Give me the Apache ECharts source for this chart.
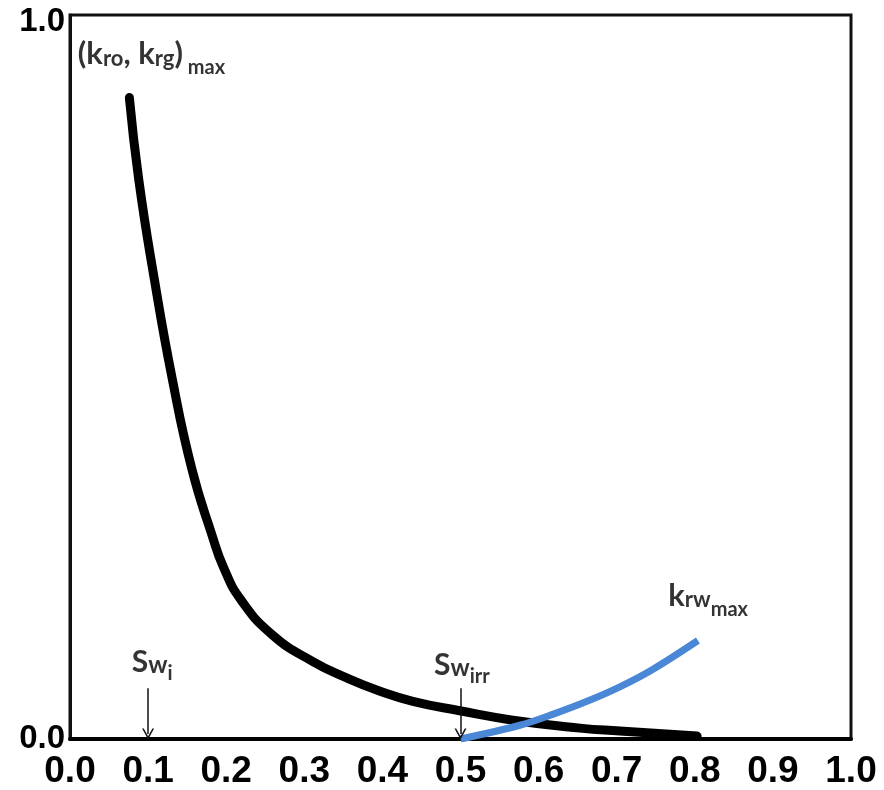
<!DOCTYPE html>
<html>
<head>
<meta charset="utf-8">
<script src="https://cdn.jsdelivr.net/npm/echarts@6/dist/echarts.min.js"></script>
<style>
  html, body { margin: 0; padding: 0; background: #ffffff; }
  #chart { width: 884px; height: 790px; }
</style>
</head>
<body>
<div id="chart"></div>
<script>
// Water saturation ticks along the bottom, relative permeability on the left
const xTickValues = [0, 0.1, 0.2, 0.3, 0.4, 0.5, 0.6, 0.7, 0.8, 0.9, 1.0];
const yTickValues = [0, 1.0];

// Oil / gas relative permeability curve (Sw, kr)
const oilGasSw = [0.076, 0.088, 0.108, 0.131, 0.156, 0.182, 0.197, 0.219, 0.260, 0.311, 0.355, 0.397, 0.439, 0.499, 0.567, 0.653, 0.704, 0.803];
const oilGasKr = [0.886, 0.773, 0.635, 0.497, 0.373, 0.281, 0.236, 0.192, 0.143, 0.107, 0.084, 0.066, 0.052, 0.039, 0.026, 0.015, 0.011, 0.004];

// Water relative permeability curve (Sw, kr)
const waterSw = [0.500, 0.576, 0.618, 0.662, 0.704, 0.746, 0.804];
const waterKr = [0.000, 0.019, 0.034, 0.052, 0.072, 0.096, 0.136];

// Saturation markers
const swInitial = 0.1;
const swIrreducible = 0.5;

// Annotation anchors (left edge, vertical centre) and their rich-text strings
const annotationPos = [[0.010, 0.934], [0.079, 0.097], [0.466, 0.093], [0.766, 0.186]];
const annotationText = [
  '{K|(k}{r|ro}{K|, k}{r|rg}{K|)}{m| max}',
  '{S|S}{w|w}{i|i}',
  '{S|S}{w|w}{i|irr}',
  '{K|k}{r|rw}{m|max}'
];

const zip = (a, b) => a.map((v, i) => [v, b[i]]);

const chevron = 'path://M0,10 L5,0 L10,10 L8.6,10 L5,2.8 L1.4,10 Z';
const arrowLine = (x) => [
  { coord: [x, 0.070], symbol: 'none' },
  { coord: [x, 0.007], symbol: chevron, symbolSize: [12, 11] }
];

const textColor = '#000000';
const richStyles = {
  K: { fontFamily: 'Lato', fontWeight: 'bold', fontSize: 31, lineHeight: 30, color: textColor, verticalAlign: 'bottom', padding: [0, 0, 8, 0] },
  r: { fontFamily: 'Lato', fontWeight: 'bold', fontSize: 22, lineHeight: 23, color: textColor, verticalAlign: 'bottom', padding: [0, 0, 8, 0] },
  m: { fontFamily: 'Lato', fontWeight: 'bold', fontSize: 20, lineHeight: 23, color: textColor, verticalAlign: 'bottom', padding: [0, 0, 0, 0] },
  S: { fontFamily: 'Lato', fontWeight: 'bold', fontSize: 30, lineHeight: 29, color: textColor, verticalAlign: 'bottom', padding: [0, 0, 6, 0] },
  w: { fontFamily: 'Lato', fontWeight: 'bold', fontSize: 24, lineHeight: 24, color: textColor, verticalAlign: 'bottom', padding: [0, 0, 6, 0] },
  i: { fontFamily: 'Lato', fontWeight: 'bold', fontSize: 20, lineHeight: 22, color: textColor, verticalAlign: 'bottom', padding: [0, 0, 0, 0] }
};

const chart = echarts.init(document.getElementById('chart'), null, { renderer: 'canvas' });

chart.setOption({
  animation: false,
  backgroundColor: '#ffffff',
  grid: {
    left: 70, right: 33, top: 15, bottom: 49,
    show: true, borderColor: '#111111', borderWidth: 3, backgroundColor: 'transparent'
  },
  xAxis: {
    type: 'value',
    min: 0, max: 1, interval: 0.1,
    axisLine: { show: true, lineStyle: { color: '#000000', width: 4 } },
    axisTick: { show: false },
    splitLine: { show: false },
    axisLabel: {
      margin: 14,
      fontFamily: 'Liberation Sans', fontWeight: 'bold', fontSize: 37, color: '#000000',
      formatter: (v) => (xTickValues.some(t => Math.abs(t - v) < 1e-9) ? v.toFixed(1) : '')
    }
  },
  yAxis: {
    type: 'value',
    min: 0, max: 1, interval: 1,
    axisLine: { show: true, lineStyle: { color: '#111111', width: 3 } },
    axisTick: { show: false },
    splitLine: { show: false },
    axisLabel: {
      margin: 5,
      fontFamily: 'Liberation Sans', fontWeight: 'bold', fontSize: 33, color: '#000000',
      formatter: (v) => {
        if (!yTickValues.some(t => Math.abs(t - v) < 1e-9)) return '';
        return v >= 1 ? '{top|' + v.toFixed(1) + '}' : v.toFixed(1);
      },
      rich: {
        top: { fontFamily: 'Liberation Sans', fontWeight: 'bold', fontSize: 33, color: '#000000', padding: [14, 0, 0, 0] }
      }
    }
  },
  series: [
    {
      name: 'kro, krg',
      type: 'line',
      data: zip(oilGasSw, oilGasKr),
      smooth: 0.5,
      showSymbol: false,
      lineStyle: { color: '#000000', width: 9, cap: 'round', join: 'round' },
      z: 3,
      markLine: {
        silent: true,
        symbol: 'none',
        label: { show: false },
        lineStyle: { color: '#111111', width: 1.5, type: 'solid' },
        data: [arrowLine(swInitial), arrowLine(swIrreducible)]
      }
    },
    {
      name: 'krw',
      type: 'line',
      data: zip(waterSw, waterKr),
      smooth: 0.35,
      showSymbol: false,
      lineStyle: { color: '#4a87d6', width: 7, cap: 'butt' },
      z: 4
    },
    {
      name: 'annotations',
      type: 'scatter',
      symbolSize: 0,
      silent: true,
      data: annotationPos.map((p, i) => ({ value: p, text: annotationText[i] })),
      label: {
        show: true,
        position: 'right',
        distance: 0,
        formatter: (p) => p.data.text,
        rich: richStyles
      },
      z: 5
    }
  ]
});
</script>
</body>
</html>
